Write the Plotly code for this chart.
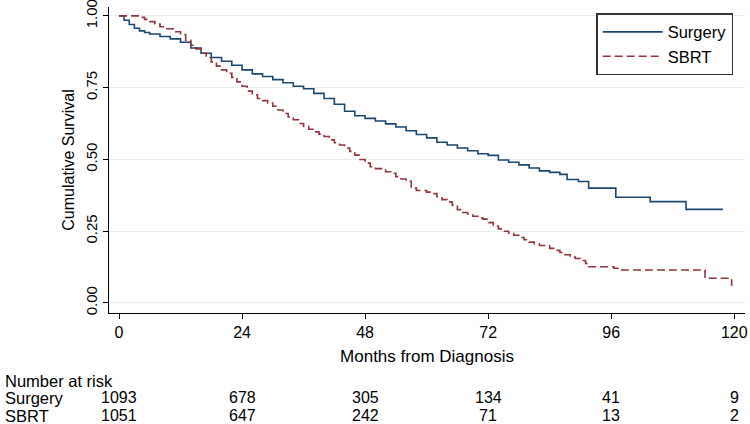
import plotly.graph_objects as go

# ---- data ----
surgery_t = [0, 1, 2, 3, 4, 5, 6, 8, 10, 12, 14, 16, 18, 20, 22, 24, 26, 28, 30, 32, 34, 36, 38, 40,
             42, 44, 46, 48, 50, 52, 54, 56, 58, 60, 62, 64, 66, 68, 70, 72, 74, 76, 78, 80, 82, 84,
             86, 87.4, 89.6, 91.6, 96.9, 103.6, 110.6, 117.8]
surgery_s = [1.0, 0.985, 0.97, 0.957, 0.948, 0.942, 0.937, 0.928, 0.92, 0.908, 0.888, 0.870, 0.855,
             0.842, 0.828, 0.812, 0.798, 0.789, 0.778, 0.767, 0.755, 0.746, 0.730, 0.712, 0.692, 0.668,
             0.652, 0.643, 0.634, 0.624, 0.613, 0.600, 0.587, 0.575, 0.560, 0.550, 0.540, 0.530, 0.520,
             0.514, 0.498, 0.490, 0.481, 0.470, 0.460, 0.455, 0.448, 0.430, 0.423, 0.400, 0.368, 0.353,
             0.326, 0.326]

sbrt_t = [0, 2, 4, 5, 6, 7, 8, 9, 11, 12, 13, 14, 15, 16, 17, 18, 19, 20, 21, 22, 23, 24, 25, 26, 27,
          28, 29, 30, 31, 32, 33, 34, 35, 36, 37, 38, 39, 40, 41, 42, 43, 44, 45, 46, 47, 48, 49, 50,
          52, 53, 54, 55, 56, 57, 58, 60, 61, 62, 63, 64, 65, 66, 67, 68, 69, 70, 71, 72, 73, 74, 75,
          76, 77, 78, 79, 80, 81, 82, 84, 85, 86, 87, 88, 89, 90, 91, 91.6, 96.5, 97.8, 113.5, 114.3,
          119.5, 119.5]
sbrt_s = [1.0, 1.0, 0.995, 0.988, 0.980, 0.972, 0.962, 0.955, 0.945, 0.935, 0.915, 0.898, 0.885, 0.870,
          0.855, 0.840, 0.825, 0.812, 0.800, 0.786, 0.770, 0.755, 0.738, 0.725, 0.712, 0.705, 0.696,
          0.685, 0.672, 0.660, 0.648, 0.638, 0.625, 0.615, 0.605, 0.596, 0.588, 0.580, 0.568, 0.558,
          0.550, 0.540, 0.528, 0.515, 0.500, 0.487, 0.475, 0.468, 0.457, 0.452, 0.440, 0.432, 0.424,
          0.400, 0.392, 0.386, 0.381, 0.370, 0.360, 0.352, 0.340, 0.325, 0.315, 0.310, 0.302, 0.296,
          0.292, 0.280, 0.268, 0.258, 0.250, 0.243, 0.236, 0.228, 0.220, 0.212, 0.206, 0.200, 0.190,
          0.183, 0.176, 0.168, 0.160, 0.155, 0.148, 0.138, 0.126, 0.121, 0.115, 0.115, 0.086, 0.086,
          0.059]

risk_times = [0, 24, 48, 72, 96, 120]
risk_surgery = [1093, 678, 305, 134, 41, 9]
risk_sbrt = [1051, 647, 242, 71, 13, 2]
x_ticks = [0, 24, 48, 72, 96, 120]
y_ticks = [0, 0.25, 0.5, 0.75, 1.0]
y_labels = ["0.00", "0.25", "0.50", "0.75", "1.00"]

NAVY = "#1a476f"
MAROON = "#90353b"
FONT = "Liberation Sans, Arial, sans-serif"

fig = go.Figure()
fig.add_trace(go.Scatter(x=surgery_t, y=surgery_s, mode="lines", name="Surgery",
                         line=dict(color=NAVY, width=1.6, shape="hv")))
fig.add_trace(go.Scatter(x=sbrt_t, y=sbrt_s, mode="lines", name="SBRT",
                         line=dict(color=MAROON, width=1.6, shape="hv", dash="8px,4px")))

# number at risk table
Y0 = 313
H = 306
def py(pix):
    return (Y0 - pix) / H

fig.add_annotation(text="Number at risk", x=-0.1667, xref="paper", y=py(381), yref="paper",
                   xanchor="left", yanchor="middle", showarrow=False, font=dict(size=16.5, color="#000"))
fig.add_annotation(text="Surgery", x=-0.1667, xref="paper", y=py(398), yref="paper",
                   xanchor="left", yanchor="middle", showarrow=False, font=dict(size=16.5, color="#000"))
fig.add_annotation(text="SBRT", x=-0.1667, xref="paper", y=py(415.5), yref="paper",
                   xanchor="left", yanchor="middle", showarrow=False, font=dict(size=16.5, color="#000"))
for t, a, b in zip(risk_times, risk_surgery, risk_sbrt):
    fig.add_annotation(text=str(a), x=t, xref="x", y=py(398), yref="paper",
                       xanchor="center", yanchor="middle", showarrow=False,
                       font=dict(size=16, color="#000"))
    fig.add_annotation(text=str(b), x=t, xref="x", y=py(415.5), yref="paper",
                       xanchor="center", yanchor="middle", showarrow=False,
                       font=dict(size=16, color="#000"))

fig.update_layout(
    width=750, height=424,
    margin=dict(l=109, r=5, t=7, b=111),
    paper_bgcolor="white", plot_bgcolor="white",
    font=dict(family=FONT, size=16, color="#000"),
    showlegend=True,
    legend=dict(x=0.766, y=0.98, xanchor="left", yanchor="top",
                bgcolor="white", bordercolor="#333", borderwidth=1.5,
                font=dict(size=16.5), itemwidth=60, tracegroupgap=0),
    xaxis=dict(range=[-1.95, 122.1], tickvals=x_ticks, ticks="outside", ticklen=5,
               tickcolor="#000", showline=True, linecolor="#000", linewidth=1.3,
               showgrid=False, zeroline=False, tickfont=dict(size=16),
               ticklabeloverflow="allow",
               title=dict(text="Months from Diagnosis", font=dict(size=17), standoff=9),
               automargin=False),
    yaxis=dict(range=[-0.035, 1.031], tickvals=y_ticks, ticktext=y_labels,
               ticks="outside", ticklen=5, tickcolor="#000", tickangle=-90,
               showline=True, linecolor="#000", linewidth=1.3,
               showgrid=True, gridcolor="#e6eef0", gridwidth=1, zeroline=False,
               tickfont=dict(size=15), ticklabeloverflow="allow",
               title=dict(text="Cumulative Survival", font=dict(size=16), standoff=4),
               automargin=False),
)

fig.write_html("out.html", config={"displayModeBar": False},
               post_script="document.body.style.margin='0';")
